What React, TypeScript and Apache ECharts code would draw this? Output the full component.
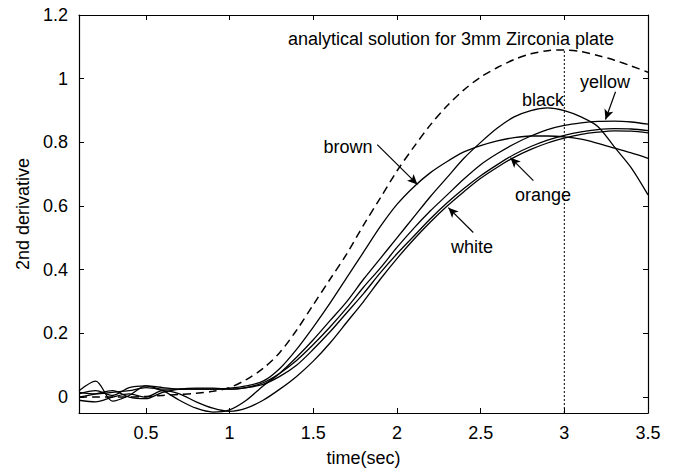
import React, { useEffect, useRef } from "react";
import * as echarts from "echarts";

// time axis samples (sec)
const times = [
  0.1, 0.2, 0.3, 0.4, 0.5, 0.6, 0.7, 0.8, 0.9, 1.0,
  1.1, 1.2, 1.3, 1.4, 1.5, 1.6, 1.7, 1.8, 1.9, 2.0,
  2.1, 2.2, 2.3, 2.4, 2.5, 2.6, 2.7, 2.8, 2.9, 3.0,
  3.1, 3.2, 3.3, 3.4, 3.5,
];

// analytical solution (dashed)
const analytical = [
  0.0, 0.0, 0.0, 0.0, 0.002, 0.005, 0.008, 0.012, 0.018, 0.03,
  0.055, 0.09, 0.14, 0.21, 0.29, 0.37, 0.45, 0.54, 0.625, 0.71,
  0.785, 0.855, 0.915, 0.965, 1.005, 1.035, 1.06, 1.078, 1.088, 1.09,
  1.085, 1.073, 1.058, 1.04, 1.02,
];

const brown = [
  0.01, 0.02, 0.005, 0.03, 0.035, 0.025, 0.025, 0.025, 0.025, 0.028,
  0.035, 0.05, 0.09, 0.15, 0.22, 0.295, 0.375, 0.455, 0.535, 0.605,
  0.66, 0.705, 0.74, 0.77, 0.79, 0.805, 0.815, 0.82, 0.82, 0.817,
  0.81, 0.797, 0.782, 0.767, 0.75,
];

const black = [
  0.015, 0.01, 0.015, 0.02, 0.03, 0.02, -0.01, -0.035, -0.047, -0.04,
  -0.01, 0.035, 0.075, 0.125, 0.18, 0.24, 0.3, 0.37, 0.435, 0.5,
  0.565, 0.63, 0.69, 0.75, 0.8, 0.845, 0.88, 0.9, 0.908, 0.9,
  0.88, 0.85, 0.785, 0.72, 0.635,
];

const yellow = [
  0.02, 0.05, -0.013, 0.005, 0.035, 0.03, 0.025, 0.025, 0.025, 0.025,
  0.03, 0.045, 0.075, 0.115, 0.165, 0.22, 0.28, 0.345, 0.405, 0.47,
  0.53, 0.585, 0.635, 0.685, 0.73, 0.765, 0.795, 0.82, 0.84, 0.853,
  0.861, 0.866, 0.867, 0.864, 0.857,
];

const orange = [
  0.0, 0.01, 0.02, 0.0, -0.005, 0.015, 0.025, 0.028, 0.028, 0.025,
  0.03, 0.04, 0.065, 0.1, 0.15, 0.205, 0.265, 0.325, 0.39, 0.45,
  0.505, 0.56, 0.61, 0.655, 0.695, 0.73, 0.762, 0.787, 0.807, 0.822,
  0.833, 0.84, 0.843, 0.842, 0.837,
];

const white = [
  -0.01, -0.015, 0.0, 0.01, 0.0, 0.02, 0.01, -0.015, -0.035, -0.045,
  -0.035, -0.01, 0.025, 0.065, 0.113, 0.17, 0.235, 0.3, 0.37, 0.435,
  0.495, 0.55, 0.6, 0.645, 0.687, 0.722, 0.753, 0.778, 0.798, 0.813,
  0.825, 0.832, 0.836, 0.835, 0.83,
];

const xTicks = [0.5, 1, 1.5, 2, 2.5, 3, 3.5];
const yTicks = [0, 0.2, 0.4, 0.6, 0.8, 1, 1.2];

const markerTime = 3;
const markerTop = 1.09;

const FONT = "'Liberation Sans', Arial, Helvetica, sans-serif";

function pairs(arr: number[]) {
  return times.map((t, i) => [t, arr[i]]);
}

function arrow(from: number[], to: number[]) {
  return {
    silent: true,
    symbol: ["none", "arrow"],
    symbolSize: [7, 10],
    label: { show: false },
    lineStyle: { type: "solid", color: "#000", width: 1.2 },
    data: [[{ coord: from }, { coord: to }]],
  };
}

export default function App() {
  const ref = useRef<HTMLDivElement>(null);

  useEffect(() => {
    if (!ref.current) return;
    const chart = echarts.init(ref.current, null, { renderer: "svg" });

    const solid = (name: string, arr: number[], mark?: any) => ({
      name,
      type: "line",
      data: pairs(arr),
      showSymbol: false,
      symbol: "none",
      smooth: 0.3,
      lineStyle: { color: "#000", width: 1.3 },
      z: 3,
      ...(mark ? { markLine: mark } : {}),
    });

    const axisCommon = {
      type: "value",
      axisLine: { show: true, onZero: false, lineStyle: { color: "#000", width: 1.2 } },
      splitLine: { show: false },
    };

    const option: any = {
      animation: false,
      backgroundColor: "#fff",
      textStyle: { fontFamily: FONT },
      grid: { left: 79, right: 33, top: 15, bottom: 58 },
      xAxis: [
        {
          ...axisCommon,
          position: "bottom",
          min: 0.1,
          max: 3.5,
          name: "time(sec)",
          nameLocation: "middle",
          nameGap: 36,
          nameTextStyle: { fontSize: 18, color: "#000", fontFamily: FONT },
          axisTick: { show: true, inside: true, length: 5, customValues: xTicks, lineStyle: { color: "#000" } },
          axisLabel: {
            show: true,
            customValues: xTicks,
            fontSize: 18,
            color: "#000",
            fontFamily: FONT,
            margin: 11,
            formatter: (v: number) => String(v),
          },
        },
        {
          ...axisCommon,
          position: "top",
          min: 0.1,
          max: 3.5,
          axisTick: { show: true, inside: true, length: 5, customValues: xTicks, lineStyle: { color: "#000" } },
          axisLabel: { show: false },
        },
      ],
      yAxis: [
        {
          ...axisCommon,
          position: "left",
          min: -0.05,
          max: 1.2,
          name: "2nd derivative",
          nameLocation: "middle",
          nameGap: 47,
          nameTextStyle: { fontSize: 18, color: "#000", fontFamily: FONT },
          axisTick: { show: true, inside: true, length: 5, customValues: yTicks, lineStyle: { color: "#000" } },
          axisLabel: {
            show: true,
            customValues: yTicks,
            fontSize: 18,
            color: "#000",
            fontFamily: FONT,
            margin: 11,
            formatter: (v: number) => String(v),
          },
        },
        {
          ...axisCommon,
          position: "right",
          min: -0.05,
          max: 1.2,
          axisTick: { show: true, inside: true, length: 5, customValues: yTicks, lineStyle: { color: "#000" } },
          axisLabel: { show: false },
        },
      ],
      series: [
        {
          name: "analytical",
          type: "line",
          data: pairs(analytical),
          showSymbol: false,
          symbol: "none",
          smooth: 0.3,
          lineStyle: { color: "#000", width: 1.5, type: [8, 5] },
          z: 2,
        },
        {
          name: "marker",
          type: "line",
          data: [
            [markerTime, -0.05],
            [markerTime, markerTop],
          ],
          showSymbol: false,
          symbol: "none",
          lineStyle: { color: "#000", width: 1, type: [2, 2] },
          z: 1,
        },
        solid("brown", brown, arrow([1.882, 0.793], [2.122, 0.668])),
        solid("black", black),
        solid("yellow", yellow, arrow([3.306, 0.959], [3.246, 0.872])),
        solid("orange", orange, arrow([2.815, 0.68], [2.678, 0.752])),
        solid("white", white, arrow([2.456, 0.517], [2.307, 0.595])),
      ],
      graphic: [
        {
          type: "text",
          x: 451,
          y: 39,
          style: {
            text: "analytical solution for 3mm Zirconia plate",
            font: `18px ${FONT}`,
            fill: "#000",
            align: "center",
            verticalAlign: "middle",
          },
        },
        { type: "text", x: 348, y: 147, style: { text: "brown", font: `18px ${FONT}`, fill: "#000", align: "center", verticalAlign: "middle" } },
        { type: "text", x: 543, y: 100, style: { text: "black", font: `18px ${FONT}`, fill: "#000", align: "center", verticalAlign: "middle" } },
        { type: "text", x: 605, y: 82, style: { text: "yellow", font: `18px ${FONT}`, fill: "#000", align: "center", verticalAlign: "middle" } },
        { type: "text", x: 543, y: 195, style: { text: "orange", font: `18px ${FONT}`, fill: "#000", align: "center", verticalAlign: "middle" } },
        { type: "text", x: 472, y: 247, style: { text: "white", font: `18px ${FONT}`, fill: "#000", align: "center", verticalAlign: "middle" } },
      ],
    };

    chart.setOption(option);
    return () => chart.dispose();
  }, []);

  return (
    <div
      ref={ref}
      style={{ position: "absolute", left: 0, top: 0, width: 681, height: 472, background: "#fff" }}
    />
  );
}
